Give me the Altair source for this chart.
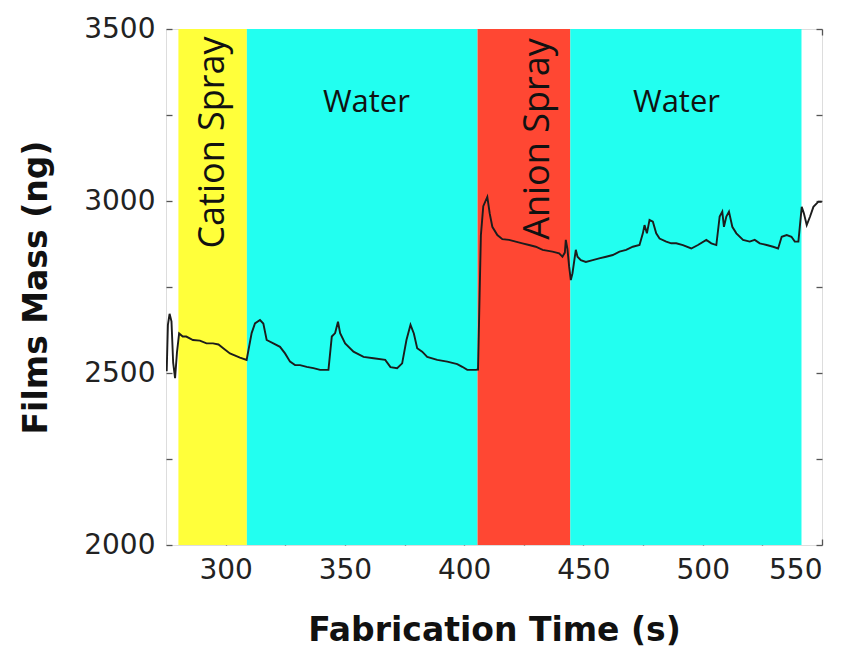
import altair as alt
import pandas as pd

# ---- data ----
time_s = [275.3, 275.8, 276.5, 277.3, 278.0, 278.8, 279.6, 280.5, 282.0, 283.5,
          286.3, 289.2, 292.0, 294.7, 297.0, 299.0, 301.8, 306.0, 308.8, 310.9,
          312.3, 314.4, 315.8, 317.2, 320.0, 322.8, 324.9, 327.0, 329.1, 331.2,
          334.0, 336.8, 339.6, 343.1, 344.5, 345.9, 347.1, 348.0, 350.1, 353.6,
          357.8, 362.0, 366.9, 369.1, 371.9, 374.0, 375.8, 377.5, 378.9, 380.3,
          382.4, 384.5, 388.7, 392.9, 397.1, 399.2, 401.3, 404.8, 405.8, 407.0,
          408.0, 409.7, 410.7, 411.8, 413.9, 416.0, 418.8, 421.6, 424.4, 427.2,
          430.0, 432.9, 437.0, 439.8, 441.2, 442.2, 442.6, 443.3, 444.0, 444.7,
          445.4, 446.8, 447.5, 448.9, 451.0, 453.9, 456.6, 459.5, 462.3, 465.1,
          467.9, 470.7, 473.5, 474.9, 475.6, 476.6, 477.7, 479.1, 480.5, 481.9,
          484.7, 486.8, 488.9, 491.7, 495.2, 498.0, 501.5, 503.6, 505.7, 507.1,
          508.2, 508.9, 509.9, 511.0, 512.4, 514.1, 516.9, 519.7, 521.8, 523.9,
          526.8, 529.5, 531.6, 533.1, 535.2, 537.2, 538.6, 540.1, 541.5, 542.4,
          543.6, 545.0, 546.4, 548.5, 549.9]
mass_ng = [2505, 2640, 2672, 2650, 2530, 2485, 2560, 2615, 2606, 2606,
           2596, 2594, 2586, 2586, 2583, 2572, 2557, 2545, 2538, 2616,
           2644, 2654, 2644, 2596, 2586, 2576, 2557, 2533, 2523, 2523,
           2518, 2514, 2509, 2509, 2606, 2616, 2649, 2616, 2586, 2562,
           2547, 2543, 2538, 2517, 2514, 2528, 2596, 2640, 2615, 2572,
           2562, 2547, 2538, 2533, 2526, 2518, 2509, 2509, 2510, 2900,
           2985, 3012, 2964, 2925, 2901, 2889, 2887, 2882, 2877, 2872,
           2867, 2858, 2853, 2848, 2838, 2850, 2887, 2860, 2809, 2770,
           2790, 2858, 2838, 2828, 2823, 2828, 2833, 2838, 2843, 2853,
           2858, 2867, 2872, 2906, 2930, 2906, 2945, 2940, 2906, 2891,
           2882, 2877, 2877, 2872, 2862, 2872, 2887, 2877, 2872, 2955,
           2969, 2925, 2955, 2969, 2925, 2906, 2887, 2882, 2887, 2877,
           2872, 2867, 2862, 2896, 2901, 2896, 2882, 2882, 2983, 2964,
           2930, 2955, 2983, 2998, 2998]

phase_names = ["Cation Spray", "Water", "Anion Spray", "Water "]
phase_start = [280.2, 308.9, 405.6, 444.5]
phase_end = [308.9, 405.6, 444.5, 541.4]
phase_color = ["#FFFF3A", "#22FFF0", "#FF4733", "#22FFF0"]

x_ticks = [300, 325, 350, 375, 400, 425, 450, 475, 500, 525, 550]
y_ticks = [2000, 2250, 2500, 2750, 3000, 3250, 3500]

line_df = pd.DataFrame({"t": time_s, "m": mass_ng})
phase_df = pd.DataFrame({"phase": phase_names, "start": phase_start,
                         "end": phase_end, "color": phase_color})

xscale = alt.Scale(domain=[275, 550], nice=False, zero=False)
yscale = alt.Scale(domain=[2000, 3500], nice=False, zero=False)

FONT = "DejaVu Sans"

bottom_axis = alt.Axis(orient="bottom", values=x_ticks, title="Fabrication Time (s)",
                       labelExpr="datum.value % 50 == 0 ? datum.label : ''",
                       labelFontSize=28, labelFont=FONT, labelColor="#222",
                       labelPadding=11, titleFontSize=33, titleFont=FONT,
                       titleFontWeight="bold", titleColor="#111", titlePadding=30,
                       grid=False, domain=False, ticks=True, tickSize=6, offset=-6,
                       tickColor="#555", tickWidth=1.3, labelFlush=True)
left_axis = alt.Axis(orient="left", values=y_ticks, title="Films Mass (ng)",
                     labelExpr="datum.value % 500 == 0 ? datum.label : ''",
                     format="d",
                     labelFontSize=28, labelFont=FONT, labelColor="#222",
                     labelPadding=11, titleFontSize=33, titleFont=FONT,
                     titleFontWeight="bold", titleColor="#111", titlePadding=30,
                     grid=False, domain=False, ticks=True, tickSize=6, offset=-6,
                     tickColor="#555", tickWidth=1.3, labelFlush=False)
top_axis = alt.Axis(orient="top", values=x_ticks, title=None, labels=False,
                    grid=False, domain=False, tickSize=6, offset=-6,
                    tickColor="#555", tickWidth=1.3)
right_axis = alt.Axis(orient="right", values=y_ticks, title=None, labels=False,
                      grid=False, domain=False, tickSize=6, offset=-6,
                      tickColor="#555", tickWidth=1.3)

rects = alt.Chart(phase_df).mark_rect(opacity=1).encode(
    x=alt.X("start:Q", scale=xscale, axis=top_axis),
    x2="end:Q",
    y=alt.Y(datum=2000, type="quantitative", scale=yscale, axis=right_axis),
    y2=alt.Y2(datum=3500),
    color=alt.Color("color:N", scale=None),
)

line = alt.Chart(line_df).mark_line(color="#1c1c1c", strokeWidth=1.9, clip=True).encode(
    x=alt.X("t:Q", scale=xscale, axis=bottom_axis),
    y=alt.Y("m:Q", scale=yscale, axis=left_axis),
)

water1 = alt.Chart().mark_text(text="Water", font="Open Sans", fontSize=31,
                               color="#111").encode(
    x=alt.X(datum=359, type="quantitative", axis=None),
    y=alt.Y(datum=3285, type="quantitative", axis=None))
water2 = alt.Chart().mark_text(text="Water", font="Open Sans", fontSize=31,
                               color="#111").encode(
    x=alt.X(datum=489, type="quantitative", axis=None),
    y=alt.Y(datum=3285, type="quantitative", axis=None))
cation = alt.Chart().mark_text(text="Cation Spray", font="Open Sans", fontSize=36,
                               angle=270, color="#111", clip=True).encode(
    x=alt.X(datum=294.6, type="quantitative", axis=None),
    y=alt.Y(datum=3170, type="quantitative", axis=None))
anion = alt.Chart().mark_text(text="Anion Spray", font="Open Sans", fontSize=36,
                              angle=270, color="#111", clip=True).encode(
    x=alt.X(datum=430.8, type="quantitative", axis=None),
    y=alt.Y(datum=3180, type="quantitative", axis=None))

chart = alt.layer(rects, line, water1, water2, cation, anion).resolve_axis(
    x="independent", y="independent"
).properties(
    width=656, height=516,
    autosize=alt.AutoSizeParams(type="none"),
    padding={"left": 158, "top": 21, "right": 22, "bottom": 105},
).configure_view(stroke="#555", strokeWidth=1.5).configure(background="white")

chart.save("out.html", embed_options={"renderer": "svg", "actions": False})
